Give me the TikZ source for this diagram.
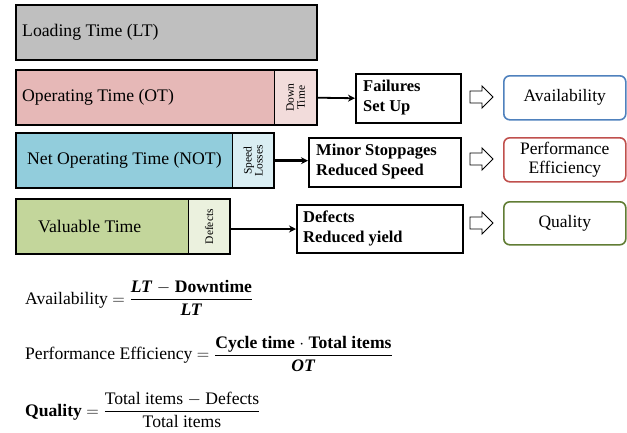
\documentclass[tikz,border=0pt]{standalone}
\usepackage{fontspec}
\usepackage{amsmath}
\setmainfont{Liberation Serif}
\usetikzlibrary{arrows.meta}
\definecolor{ltgray}{HTML}{BFBFBF}
\definecolor{otpink}{HTML}{E6B8B7}
\definecolor{dtpink}{HTML}{F2DCDB}
\definecolor{notblue}{HTML}{92CDDC}
\definecolor{splight}{HTML}{DAEEF3}
\definecolor{vtgreen}{HTML}{C3D69B}
\definecolor{dflight}{HTML}{EBF1DE}
\definecolor{kpiblue}{HTML}{4F81BD}
\definecolor{kpired}{HTML}{C0504D}
\definecolor{kpigreen}{HTML}{617D34}
\begin{document}
\begin{tikzpicture}[x=1pt,y=-1pt,
  seg/.style={anchor=north west, inner sep=0pt, draw=none},
  frame/.style={line width=2pt},
  divider/.style={line width=0.8pt},
  lbl/.style={anchor=west, inner sep=0pt, font=\fontsize{17.7}{20}\selectfont},
  vlab/.style={rotate=90, inner sep=0pt, align=center, font=\fontsize{11.5}{11}\selectfont},
  cause/.style={draw=black, anchor=north west, inner sep=0pt, line width=2pt},
  causetxt/.style={anchor=west, inner sep=0pt, align=left, font=\bfseries\fontsize{16.5}{20}\selectfont},
  kpi/.style={draw, line width=1.6pt, rounded corners=6pt, anchor=north west, inner sep=0pt,
    align=center, font=\fontsize{17.5}{18.5}\selectfont, minimum width=122pt},
  conn/.style={-{Stealth[length=7pt,width=7pt]}, line width=2.6pt},
  formula/.style={anchor=west, inner sep=0pt, font=\fontsize{17.6}{20}\selectfont},
  barrow/.pic={\draw[line width=0.9pt, fill=white] (-11.5,-6) -- (0.5,-6) -- (0.5,-11) -- (11.5,0) -- (0.5,11) -- (0.5,6) -- (-11.5,6) -- cycle;}
]
\useasboundingbox (0,0) rectangle (627,432);

% Row 1: loading time
\node[seg, fill=ltgray, minimum width=301pt, minimum height=55pt] (lt) at (16,5) {};
\draw[frame] (lt.north west) rectangle (lt.south east);
\node[lbl] (ltl) at (22,32.5) {Loading Time (LT)};

% Row 2: operating time
\node[seg, fill=otpink, minimum width=258pt, minimum height=55pt] (ot) at (16,70) {};
\node[seg, fill=dtpink, minimum width=43pt, minimum height=55pt] (dt) at (274,70) {};
\draw[divider] (dt.north west) -- (dt.south west);
\draw[frame] (ot.north west) rectangle (dt.south east);
\node[lbl] (otl) at (22,97.5) {Operating Time (OT)};
\node[vlab] (dtl) at (dt.center) {Down\\Time};

% Row 3: net operating time
\node[seg, fill=notblue, minimum width=216pt, minimum height=55pt] (not) at (16,133) {};
\node[seg, fill=splight, minimum width=42pt, minimum height=55pt] (sp) at (232,133) {};
\draw[divider] (sp.north west) -- (sp.south west);
\draw[frame] (not.north west) rectangle (sp.south east);
\node[lbl] (notl) at (27,160.5) {Net Operating Time (NOT)};
\node[vlab] (spl) at (sp.center) {Speed\\Losses};

% Row 4: valuable time
\node[seg, fill=vtgreen, minimum width=172pt, minimum height=55pt] (vt) at (16,199) {};
\node[seg, fill=dflight, minimum width=42pt, minimum height=55pt] (df) at (188,199) {};
\draw[divider] (df.north west) -- (df.south west);
\draw[frame] (vt.north west) rectangle (df.south east);
\node[lbl] (vtl) at (38,226.5) {Valuable Time};
\node[vlab] (dfl) at (df.center) {Defects};

% Cause boxes
\node[cause, line width=1.5pt, minimum width=105pt, minimum height=49pt] (fail) at (355,73) {};
\node[causetxt] (failt) at (363,97.5) {Failures\\Set Up};
\node[cause, minimum width=152pt, minimum height=49pt] (minor) at (308,137) {};
\node[causetxt] (minort) at (316,161.5) {Minor Stoppages\\Reduced Speed};
\node[cause, minimum width=166pt, minimum height=48pt] (defb) at (296,204) {};
\node[causetxt] (defbt) at (303,228) {Defects\\Reduced yield};

% Connectors
\draw[conn, line width=1.8pt] (dt.east) -- (fail.west);
\draw[conn] (sp.east) -- (sp.east -| minor.west);
\draw[conn] (df.east |- defb.west) -- (defb.west);

% Block arrows
\pic at (481.5,97) {barrow};
\pic at (481.5,159) {barrow};
\pic at (481.5,223) {barrow};

% KPI boxes
\node[kpi, draw=kpiblue, minimum height=44pt] (av) at (503,75) {Availability};
\node[kpi, draw=kpired, minimum height=44pt] (pe) at (503,137) {Performance\\Efficiency};
\node[kpi, draw=kpigreen, minimum height=43pt] (qu) at (503,201) {Quality};

% Formulas
\node[formula] (f1) at (25,298) {Availability $=\dfrac{\mbox{\textbf{\textit{LT}} $-$ \textbf{Downtime}}}{\mbox{\textbf{\textit{LT}}}}$};
\node[formula] (f2) at (25,354) {Performance Efficiency $=\dfrac{\mbox{\textbf{Cycle time $\cdot$ Total items}}}{\mbox{\textbf{\textit{OT}}}}$};
\node[formula] (f3) at (25,410) {\textbf{Quality} $=\dfrac{\mbox{Total items $-$ Defects}}{\mbox{Total items}}$};
\end{tikzpicture}
\end{document}
